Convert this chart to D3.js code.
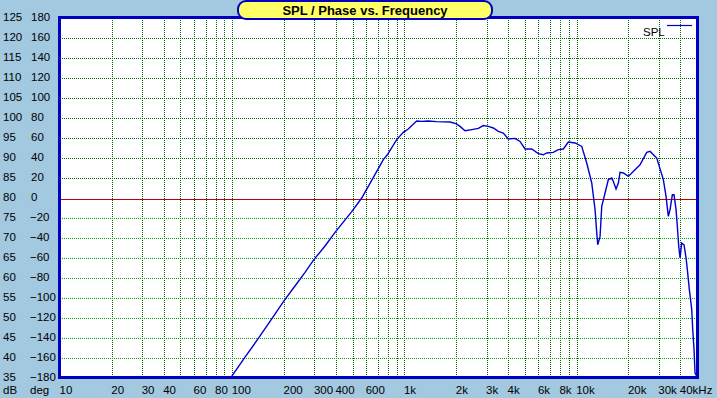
<!DOCTYPE html>
<html><head><meta charset="utf-8">
<script src="https://cdn.jsdelivr.net/npm/d3@7"></script>
<style>
html,body{margin:0;padding:0;background:#a3c9e0;}
svg{display:block;}
text{font-family:"Liberation Sans",Arial,sans-serif;}
</style></head><body>
<svg id="chart" width="717" height="398"></svg>
<script>
// ---- data ----
const freqs = [95,100,118.7,141.8,169.6,200.7,231.5,264.8,295.8,345.9,395.4,494.3,564.9,645.7,690.5,754.3,795.7,902.1,985.4,1053,1152,1179,1260,1376,1540,1840,1994,2103,2248,2459,2687,2872,3071,3283,3510,3752,4012,4388,4692,5017,5486,5993,6406,6704,7321,7828,8368,8948,9787,10706,11447,12239,12794,13088,13264,13677,13991,14623,15283,15996,16342,16937,17468,17870,18676,19965,23343,25534,26690,29190,31880,33050,34080,34870,35960,36780,37780,38450,39170,39860,40770,42050,43190,43950,45140,46610,47230,48060,48700,50000];
const spl = [33.5,35.6,40.2,44.9,49.8,54.4,58.0,61.4,64.4,68.0,71.4,76.6,80,84.4,86.65,89.6,90.8,94.6,96.4,97.25,98.9,99.25,99.15,99.25,99.1,99,98.6,97.9,96.8,97.1,97.4,98.1,97.9,97.5,96.65,96.25,94.75,94.9,94.15,92.25,92.25,91.1,90.8,91.25,91.4,92.1,92.25,94,93.75,92.9,88.75,83.75,77.1,71.25,68.3,70.4,77.9,81.25,84.6,85,84.15,82.25,83.75,86.4,86.25,85.4,88.3,91.4,91.65,90,84.6,80.4,75.4,77.1,80.8,80.8,77.1,72.9,67.9,65,68.75,68.3,65,62.1,57.1,52.1,47.1,42.1,36.25,35.3];
const dbTicks = [125,120,115,110,105,100,95,90,85,80,75,70,65,60,55,50,45,40,35];
const degTicks = [180,160,140,120,100,80,60,40,20,0,-20,-40,-60,-80,-100,-120,-140,-160,-180];
const freqTickVals = [10,20,30,40,60,80,100,200,300,400,600,1000,2000,3000,4000,6000,8000,10000,20000,30000,40000];
const freqTickLabels = ["10","20","30","40","60","80","100","200","300","400","600","1k","2k","3k","4k","6k","8k","10k","20k","30k","40kHz"];
const gridFreqs = [];
[10,100,1000,10000].forEach(d=>{for(let m=1;m<=9;m++){const f=d*m; if(f>10 && f<50000) gridFreqs.push(f);}});
const titleText = "SPL / Phase vs. Frequency";
const seriesName = "SPL";

// ---- layout ----
const L=60, R=697, T=18, B=378;
const svg = d3.select("#chart");
const x = d3.scaleLog().domain([10,50000]).range([L,R]);
const y = d3.scaleLinear().domain([35,125]).range([B,T]);

svg.append("rect").attr("x",L).attr("y",T).attr("width",R-L).attr("height",B-T).attr("fill","#fff");

// vertical grid
svg.append("g").selectAll("line").data(gridFreqs).join("line")
  .attr("x1",d=>Math.round(x(d))+0.5).attr("x2",d=>Math.round(x(d))+0.5)
  .attr("y1",T).attr("y2",B)
  .attr("stroke","#006800").attr("stroke-width",1).attr("stroke-dasharray","1,1")
  .attr("shape-rendering","crispEdges");

// horizontal grid
svg.append("g").selectAll("line").data(dbTicks.filter(d=>d>35&&d<125&&d!==80)).join("line")
  .attr("x1",L).attr("x2",R)
  .attr("y1",d=>Math.round(y(d))+0.5).attr("y2",d=>Math.round(y(d))+0.5)
  .attr("stroke",d=>d>80?"#006800":"#00a000").attr("stroke-width",1).attr("stroke-dasharray","1,1")
  .attr("shape-rendering","crispEdges");

// 0 deg / 80 dB reference line
svg.append("line").attr("x1",L).attr("x2",R).attr("y1",Math.round(y(80))+1.5).attr("y2",Math.round(y(80))+1.5)
  .attr("stroke","#c00000").attr("stroke-width",1.2).attr("shape-rendering","crispEdges");

// curve
svg.append("clipPath").attr("id","clip").append("rect")
  .attr("x",L).attr("y",T).attr("width",R-L).attr("height",B-T);
const pts = freqs.map((f,i)=>[f,spl[i]]);
svg.append("path").datum(pts)
  .attr("clip-path","url(#clip)")
  .attr("d",d3.line().x(d=>x(d[0])).y(d=>y(d[1])))
  .attr("fill","none").attr("stroke","#0000d0").attr("stroke-width",1.4);

// frame
svg.append("rect").attr("x",L-0.5).attr("y",T-0.5).attr("width",R-L+1).attr("height",B-T)
  .attr("fill","none").attr("stroke","#0000c0").attr("stroke-width",3);

// x axis labels
const xa = svg.append("g").attr("transform",`translate(0,${B})`)
  .call(d3.axisBottom(x).tickValues(freqTickVals).tickFormat((d,i)=>freqTickLabels[i]).tickSize(0));
xa.select(".domain").remove();
xa.selectAll("text").attr("text-anchor","start").attr("x",-1).attr("y",16).attr("dy",0)
  .attr("font-size","11.5px").attr("fill","#000");

// y axis labels (dB)
const ya = svg.append("g").attr("transform","translate(3,0)")
  .call(d3.axisLeft(y).tickValues(dbTicks).tickSize(0));
ya.select(".domain").remove();
ya.selectAll("text").attr("text-anchor","start").attr("x",0).attr("dy",0)
  .attr("transform","translate(0,2)").attr("font-size","11.5px").attr("fill","#000");

// deg labels
const yDeg = d3.scaleLinear().domain([-180,180]).range([B,T]);
const yd = svg.append("g").attr("transform","translate(31,0)")
  .call(d3.axisLeft(yDeg).tickValues(degTicks).tickSize(0));
yd.select(".domain").remove();
yd.selectAll("text").attr("text-anchor","start").attr("x",d=>d<0?-1:0).attr("dy",0)
  .attr("transform","translate(0,2)").attr("font-size","11.5px").attr("fill","#000");

svg.append("text").attr("x",3).attr("y",394).attr("font-size","11.5px").text("dB");
svg.append("text").attr("x",30).attr("y",394).attr("font-size","11.5px").text("deg");

// legend
svg.append("text").attr("x",643).attr("y",36).attr("font-size","11.5px").text(seriesName);
svg.append("line").attr("x1",667).attr("x2",692).attr("y1",25.5).attr("y2",25.5)
  .attr("stroke","#0000c0").attr("stroke-width",1.2);

// title
svg.append("rect").attr("x",238).attr("y",1).attr("width",254).attr("height",18).attr("rx",8).attr("ry",8)
  .attr("fill","#ffff66").attr("stroke","#0000c0").attr("stroke-width",2);
svg.append("text").attr("x",365).attr("y",15).attr("text-anchor","middle")
  .attr("font-size","13px").attr("font-weight","bold").text(titleText);
</script>
</body></html>
